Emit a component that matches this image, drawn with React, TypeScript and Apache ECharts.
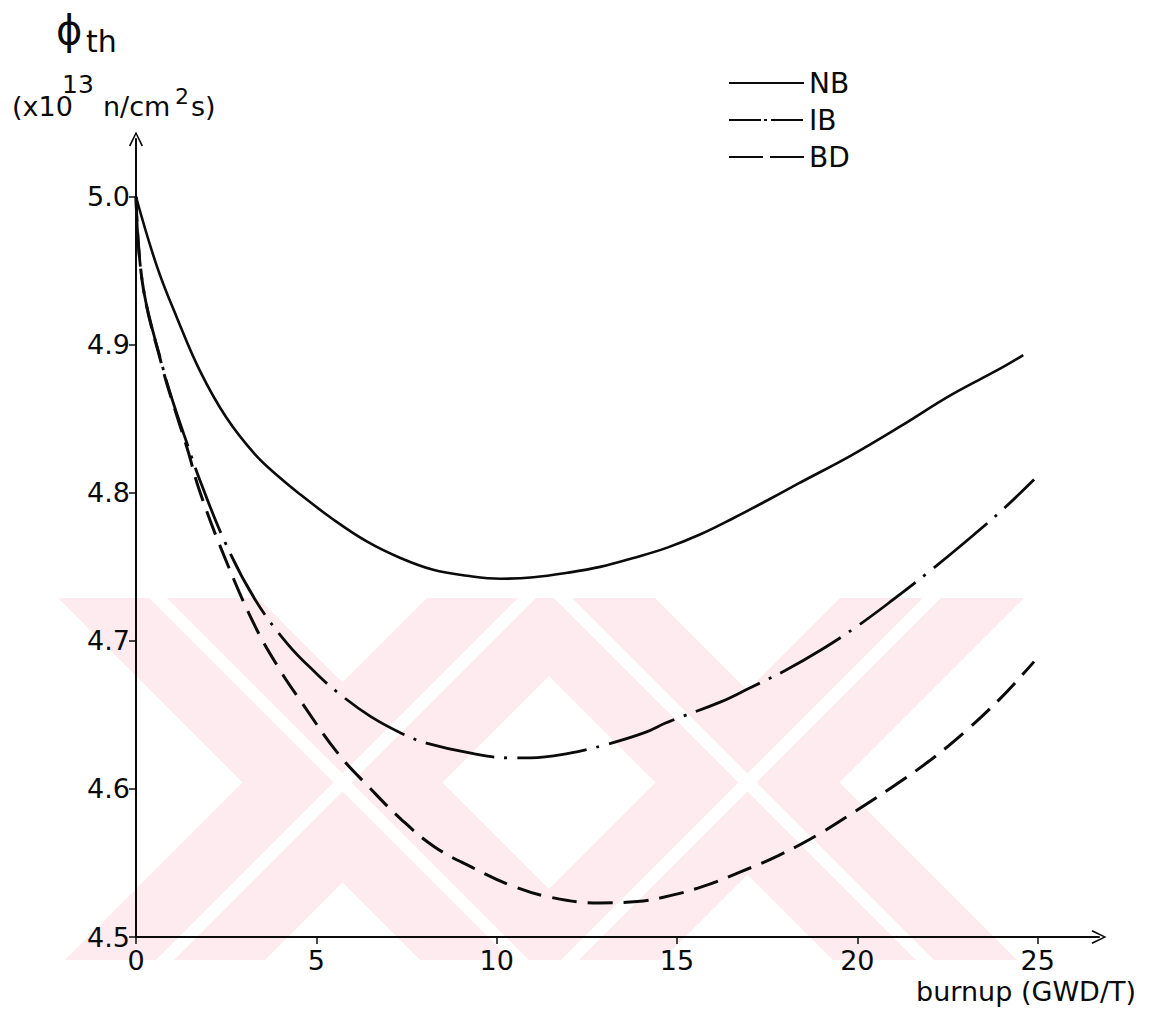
import React, { useEffect, useRef } from 'react';
import * as echarts from 'echarts';

const seriesNames = ['NB', 'IB', 'BD'];
const xTicks = [0, 5, 10, 15, 20, 25];
const yTicks = [4.5, 4.6, 4.7, 4.8, 4.9, 5.0];

const nbData = [
  [0, 5.0], [0.58, 4.953], [1.14, 4.918], [1.78, 4.882], [2.5, 4.851], [3.3, 4.826],
  [4.0, 4.81], [4.55, 4.799], [5.47, 4.782], [6.41, 4.767], [7.33, 4.756], [8.24, 4.748],
  [9.18, 4.744], [10.1, 4.742], [11.02, 4.743], [11.96, 4.746], [12.87, 4.75], [13.79, 4.756],
  [14.73, 4.763], [15.65, 4.772], [16.57, 4.783], [17.51, 4.795], [18.42, 4.807], [19.81, 4.825],
  [21.2, 4.845], [22.59, 4.866], [23.97, 4.884], [24.6, 4.893],
];

const ibData = [
  [0, 5.0], [0.19, 4.94], [0.75, 4.884], [1.03, 4.861], [1.42, 4.833], [1.78, 4.808],
  [2.5, 4.765], [3.3, 4.728], [4.2, 4.698], [5.0, 4.678], [5.6, 4.665], [6.5, 4.649],
  [7.41, 4.637], [8.05, 4.631], [9.32, 4.624], [10.38, 4.621], [10.93, 4.621], [11.99, 4.624],
  [13.04, 4.63], [14.1, 4.638], [14.73, 4.645], [16.23, 4.659], [17, 4.668], [18, 4.68],
  [19, 4.694], [20, 4.71], [21, 4.728], [22, 4.747], [23, 4.767], [24, 4.788], [24.9, 4.809],
];

const bdData = [
  [0, 5.0], [0.19, 4.94], [0.75, 4.883], [1.03, 4.86], [1.42, 4.83], [1.78, 4.8],
  [2.5, 4.754], [3.3, 4.71], [4.0, 4.68], [4.55, 4.66], [5.6, 4.624], [6.47, 4.601],
  [7.33, 4.58], [8.27, 4.561], [9.32, 4.547], [10.38, 4.535], [11.46, 4.527], [12.85, 4.523],
  [13.9, 4.524], [14.65, 4.527], [15.7, 4.534], [16.76, 4.544], [17.81, 4.555], [18.9, 4.569],
  [19.95, 4.585], [20.95, 4.601], [22, 4.619], [23, 4.639], [24, 4.662], [24.9, 4.686],
];

const INK = '#0b0b0b';
const FONT = 'DejaVu Sans';
const PINK = '#fdebef';
const arrow = 'path://M0 10 L5 0 L10 10 L9 10.7 L5 2.3 L1 10.7 Z';

// watermark decoration: diagonal arms [direction, centre (x +/- y), half width]
const WM_TOP = 598;
const WM_BOTTOM = 960;
const wmArms: [string, number, number][] = [
  ['\\', -440, 100], ['/', 1125, 100], ['\\', -35, 92], ['/', 1530, 92],
];

function band(dir: string, c1: number, c2: number, fill: string) {
  const T = WM_TOP, B = WM_BOTTOM;
  const pts = dir === '\\'
    ? [[c1 + T, T], [c2 + T, T], [c2 + B, B], [c1 + B, B]]
    : [[c1 - T, T], [c2 - T, T], [c2 - B, B], [c1 - B, B]];
  return { type: 'polygon', z: -10, silent: true, shape: { points: pts }, style: { fill } };
}

export default function App() {
  const ref = useRef<HTMLDivElement>(null);
  useEffect(() => {
    const chart = echarts.init(ref.current as HTMLDivElement, null, { renderer: 'svg' });
    const lineStyles: any[] = [
      { type: 'solid', width: 2.6 },
      { type: [70, 10, 3, 10], width: 2.8 },
      { type: [25, 11], width: 3 },
    ];
    const legendLine: any[] = [
      { type: 'solid' },
      { type: [32, 3, 3, 4] },
      { type: [34, 7] },
    ];
    const datas = [nbData, ibData, bdData];
    const watermark: any[] = [
      ...wmArms.map(([d, c, h]) => band(d, c - h, c + h, PINK)),
      ...wmArms.map(([d, c]) => band(d, c - 9, c + 9, '#ffffff')),
    ];
    chart.setOption({
      animation: false,
      backgroundColor: '#ffffff',
      textStyle: { fontFamily: FONT, color: INK },
      grid: { left: 136, right: 52, top: 139, bottom: 79, containLabel: false },
      legend: {
        data: seriesNames.map((name, i) => ({ name, lineStyle: legendLine[i] })),
        orient: 'vertical',
        left: 723,
        top: 64,
        itemWidth: 75,
        itemHeight: 14,
        itemGap: 9,
        itemStyle: { opacity: 0 },
        textStyle: { fontSize: 28, color: INK, fontFamily: FONT },
      },
      xAxis: {
        type: 'value',
        min: 0,
        max: 26.7,
        axisLine: { lineStyle: { color: INK, width: 2 }, symbol: ['none', arrow], symbolSize: [24, 15] },
        axisTick: { customValues: xTicks, length: 7, lineStyle: { color: INK, width: 1.5 } },
        axisLabel: { customValues: xTicks, fontSize: 27, margin: 10, color: INK, fontFamily: FONT },
        splitLine: { show: false },
      },
      yAxis: {
        type: 'value',
        min: 4.5,
        max: 5.039,
        axisLine: { lineStyle: { color: INK, width: 2 }, symbol: ['none', arrow], symbolSize: [18, 15] },
        axisTick: { customValues: yTicks, length: 7, lineStyle: { color: INK, width: 1.5 } },
        axisLabel: {
          customValues: yTicks, fontSize: 27, margin: 6, color: INK, fontFamily: FONT,
          formatter: (v: number) => v.toFixed(1),
        },
        splitLine: { show: false },
      },
      graphic: [
        ...watermark,
        { type: 'text', left: 56, top: 10, style: { text: 'ϕ', fontSize: 40, fill: INK, fontFamily: FONT } },
        { type: 'text', left: 86, top: 26, style: { text: 'th', fontSize: 30, fill: INK, fontFamily: FONT } },
        { type: 'text', left: 12, top: 93, style: { text: '(x10', fontSize: 27, fill: INK, fontFamily: FONT } },
        { type: 'text', left: 62, top: 72, style: { text: '13', fontSize: 25, fill: INK, fontFamily: FONT } },
        { type: 'text', left: 103, top: 93, style: { text: 'n/cm', fontSize: 27, fill: INK, fontFamily: FONT } },
        { type: 'text', left: 175, top: 85, style: { text: '2', fontSize: 22, fill: INK, fontFamily: FONT } },
        { type: 'text', left: 191, top: 93, style: { text: 's)', fontSize: 27, fill: INK, fontFamily: FONT } },
        { type: 'text', right: 15, top: 978, style: { text: 'burnup (GWD/T)', fontSize: 27, fill: INK, fontFamily: FONT } },
      ],
      series: seriesNames.map((name, i) => ({
        name,
        type: 'line',
        data: datas[i],
        symbol: 'none',
        smooth: 0.4,
        z: 5,
        lineStyle: { color: INK, ...lineStyles[i] },
        itemStyle: { color: INK },
      })),
    });
    return () => chart.dispose();
  }, []);
  return (
    <div
      ref={ref}
      style={{ position: 'fixed', left: 0, top: 0, width: 1151, height: 1016, background: '#fff' }}
    />
  );
}
